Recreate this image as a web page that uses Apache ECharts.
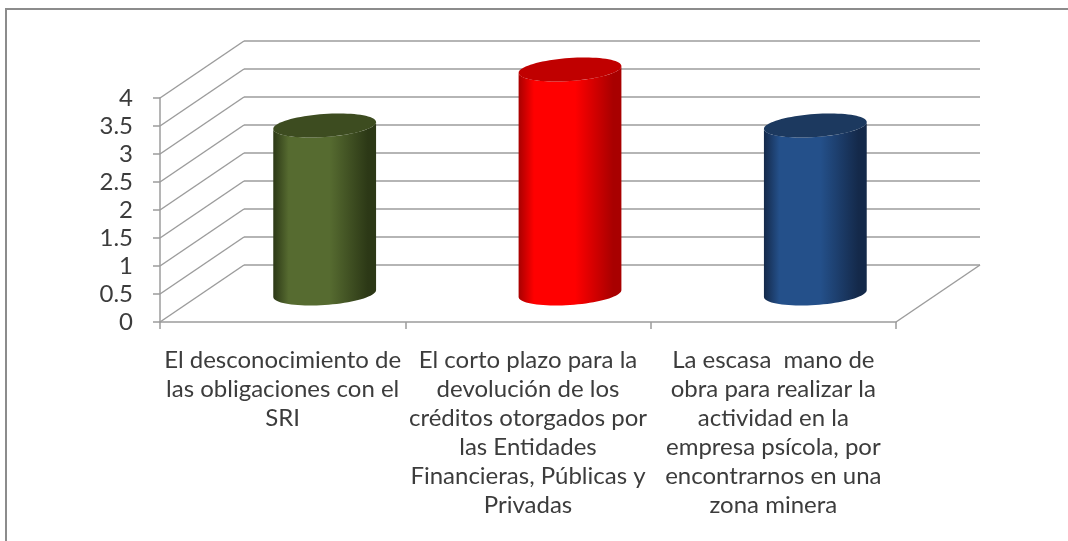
<!DOCTYPE html>
<html>
<head>
<meta charset="utf-8">
<script src="https://cdn.jsdelivr.net/npm/echarts@6/dist/echarts.min.js"></script>
<style>
  html, body { margin: 0; padding: 0; background: #fff; }
  #chart { width: 1068px; height: 541px; }
</style>
</head>
<body>
<div id="chart"></div>
<script>
// datos
const categories = [
  'El desconocimiento de\nlas obligaciones con el\nSRI',
  'El corto plazo para la\ndevolución de los\ncréditos otorgados por\nlas Entidades\nFinancieras, Públicas y\nPrivadas',
  'La escasa  mano de\nobra para realizar la\nactividad en la\nempresa psícola, por\nencontrarnos en una\nzona minera'
];
const values = [3, 4, 3];
const yTicks = [0, 0.5, 1, 1.5, 2, 2.5, 3, 3.5, 4];

// colores: [borde oscuro, centro claro, tapa]
const palette = [
  ['#2c3816', '#566b30', '#3d4c20'],
  ['#a80000', '#ff0000', '#c00000'],
  ['#14294a', '#24508a', '#1c395f']
];

// layout del plano frontal y profundidad 3D
const FRONT = { left: 160, right: 172, top: 98, bottom: 219 };
const DEPTH = [84, -57];
const gridColor = '#9c9c9c';

const chart = echarts.init(document.getElementById('chart'));

const ellipsePt = (cx, cy, rx, ry, th, t) => [
  cx + rx * Math.cos(t) * Math.cos(th) - ry * Math.sin(t) * Math.sin(th),
  cy + rx * Math.cos(t) * Math.sin(th) + ry * Math.sin(t) * Math.cos(th)
];

// cilindros
const renderCylinder = (params, api) => {
  const i = api.value(0);
  const base = api.coord([i, 0]);
  const top = api.coord([i, api.value(1)]);
  const band = api.size([1, 0])[0];
  const cx = base[0] + DEPTH[0] / 2;
  const by = base[1] + DEPTH[1] / 2;
  const ty = top[1] + DEPTH[1] / 2;
  const rx = band * 0.21, ry = 11.5, th = -4 * Math.PI / 180;
  const tr = Math.atan(-ry * Math.sin(th) / (rx * Math.cos(th)));
  const N = 40;
  const body = [];
  for (let k = 0; k <= N; k++) body.push(ellipsePt(cx, by, rx, ry, th, tr + Math.PI * k / N));
  for (let k = 0; k <= N; k++) body.push(ellipsePt(cx, ty, rx, ry, th, tr + Math.PI - Math.PI * k / N));
  const cap = [];
  for (let k = 0; k < 2 * N; k++) cap.push(ellipsePt(cx, ty, rx, ry, th, Math.PI * k / N));
  const c = palette[i];
  return {
    type: 'group',
    children: [{
      type: 'polygon',
      shape: { points: body },
      style: {
        fill: {
          type: 'linear', x: 0, y: 0, x2: 1, y2: 0,
          colorStops: [
            { offset: 0, color: c[0] },
            { offset: 0.15, color: c[1] },
            { offset: 0.55, color: c[1] },
            { offset: 0.92, color: c[0] },
            { offset: 1, color: c[0] }
          ]
        }
      }
    }, {
      type: 'polygon',
      shape: { points: cap },
      style: { fill: c[2] }
    }]
  };
};

// paredes laterales y suelo
const renderWalls = (params, api) => {
  const v = api.value(0);
  const band = api.size([1, 0])[0];
  const p = api.coord([0, v]);
  const x0 = p[0] - band / 2;
  const children = [{
    type: 'line',
    shape: { x1: x0, y1: p[1], x2: x0 + DEPTH[0], y2: p[1] + DEPTH[1] },
    style: { stroke: gridColor, lineWidth: 1.5 }
  }];
  if (v === yTicks[0]) {
    const q = api.coord([categories.length - 1, v]);
    const x1 = q[0] + band / 2;
    children.push({
      type: 'line',
      shape: { x1: x1, y1: q[1], x2: x1 + DEPTH[0], y2: q[1] + DEPTH[1] },
      style: { stroke: gridColor, lineWidth: 1.5 }
    });
  }
  return { type: 'group', children: children };
};

const yMin = yTicks[0], yMax = yTicks[yTicks.length - 1], yStep = yTicks[1] - yTicks[0];

const option = {
  animation: false,
  backgroundColor: '#fff',
  graphic: [{
    type: 'rect',
    shape: { x: 6, y: 9, width: 1200, height: 700 },
    style: { fill: 'none', stroke: '#8c8c8c', lineWidth: 2 },
    z: 100
  }],
  grid: [
    { left: FRONT.left, right: FRONT.right, top: FRONT.top, bottom: FRONT.bottom },
    {
      left: FRONT.left + DEPTH[0], right: FRONT.right - DEPTH[0],
      top: FRONT.top + DEPTH[1], bottom: FRONT.bottom - DEPTH[1]
    }
  ],
  xAxis: [{
    type: 'category',
    gridIndex: 0,
    data: categories,
    axisLine: { lineStyle: { color: gridColor, width: 1.5 } },
    axisTick: { show: true, length: 7, lineStyle: { color: gridColor, width: 1.5 } },
    axisLabel: {
      interval: 0,
      margin: 24,
      color: '#3c3c3c',
      fontFamily: 'Lato',
      fontSize: 24,
      lineHeight: 29,
      align: 'center'
    }
  }, {
    type: 'category',
    gridIndex: 1,
    data: categories,
    show: false
  }],
  yAxis: [{
    type: 'value',
    gridIndex: 0,
    min: yMin, max: yMax, interval: yStep,
    axisLine: { show: true, lineStyle: { color: gridColor, width: 1.5 } },
    axisTick: { show: true, length: 7, lineStyle: { color: gridColor, width: 1.5 } },
    splitLine: { show: false },
    axisLabel: { margin: 27, color: '#3c3c3c', fontFamily: 'Lato', fontSize: 24 }
  }, {
    type: 'value',
    gridIndex: 1,
    min: yMin, max: yMax, interval: yStep,
    axisLine: { show: false },
    axisTick: { show: false },
    axisLabel: { show: false },
    splitLine: { show: true, lineStyle: { color: gridColor, width: 1.5 } }
  }],
  series: [{
    type: 'custom',
    xAxisIndex: 0, yAxisIndex: 0,
    renderItem: renderWalls,
    data: yTicks.map(v => [v]),
    silent: true,
    z: 1
  }, {
    type: 'custom',
    xAxisIndex: 0, yAxisIndex: 0,
    renderItem: renderCylinder,
    data: values.map((v, i) => [i, v]),
    z: 3
  }]
};

chart.setOption(option);
</script>
</body>
</html>
